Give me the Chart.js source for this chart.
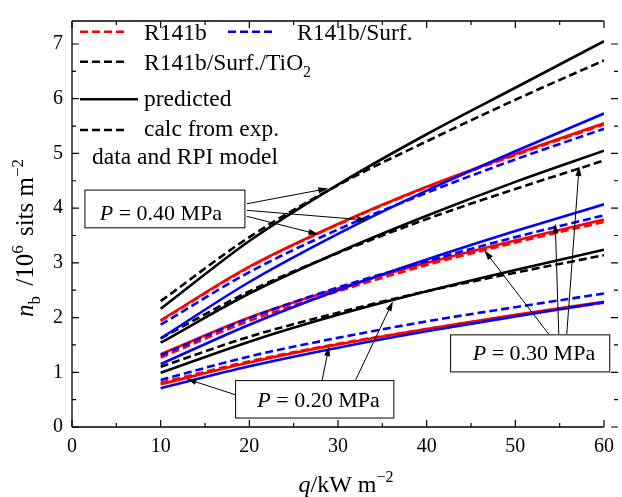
<!DOCTYPE html>
<html>
<head>
<meta charset="utf-8">
<script src="https://cdn.jsdelivr.net/npm/chart.js@4.4.1/dist/chart.umd.min.js"></script>
<style>
  html, body { margin: 0; padding: 0; background: #fff; }
  #wrap { width: 622px; height: 497px; }
</style>
</head>
<body>
<div id="wrap"><canvas id="c" width="622" height="497"></canvas></div>
<script>
// Heat flux q (kW m^-2)
const heatFlux = [10, 20, 30, 40, 50, 60];

// Active nucleation site density n_b (10^6 sites m^-2)
// P = 0.40 MPa
const r141bPred40     = [1.95, 2.93, 3.71, 4.39, 4.99, 5.55];
const r141bCalc40     = [1.94, 2.92, 3.70, 4.38, 4.97, 5.53];
const surfPred40      = [1.62, 2.65, 3.53, 4.32, 5.04, 5.73];
const surfCalc40      = [1.87, 2.83, 3.61, 4.28, 4.89, 5.45];
const tio2Pred40      = [2.16, 3.40, 4.43, 5.35, 6.20, 7.05];
const tio2Calc40      = [2.30, 3.47, 4.42, 5.22, 5.98, 6.70];
// P = 0.30 MPa
const r141bPred30     = [1.33, 2.00, 2.53, 3.00, 3.41, 3.79];
const r141bCalc30     = [1.27, 1.94, 2.48, 2.96, 3.37, 3.75];
const surfPred30      = [1.15, 1.87, 2.50, 3.06, 3.58, 4.07];
const surfCalc30      = [1.31, 1.99, 2.55, 3.03, 3.47, 3.87];
const tio2Pred30      = [1.54, 2.44, 3.19, 3.86, 4.48, 5.05];
const tio2Calc30      = [1.62, 2.48, 3.18, 3.80, 4.35, 4.87];
// P = 0.20 MPa
const r141bPred20     = [0.78, 1.18, 1.51, 1.79, 2.05, 2.29];
const r141bCalc20     = [0.81, 1.20, 1.52, 1.79, 2.04, 2.27];
const surfPred20      = [0.71, 1.11, 1.45, 1.75, 2.02, 2.28];
const surfCalc20      = [0.86, 1.29, 1.63, 1.93, 2.19, 2.44];
const tio2Pred20      = [0.99, 1.56, 2.05, 2.48, 2.87, 3.24];
const tio2Calc20      = [1.10, 1.65, 2.09, 2.48, 2.82, 3.14];

const xTickValues = [0, 10, 20, 30, 40, 50, 60];
const yTickValues = [0, 1, 2, 3, 4, 5, 6, 7];

const RED = '#ff0000', BLUE = '#0000ff', BLACK = '#000000';
const SERIF = '"Liberation Serif", "DejaVu Serif", serif';

function pts(arr) { return heatFlux.map((q, i) => ({ x: q, y: arr[i] })); }
function ds(arr, color, dashed) {
  return {
    data: pts(arr),
    borderColor: color,
    backgroundColor: color,
    borderWidth: 2.6,
    borderDash: dashed ? [8, 4] : [],
    pointRadius: 0,
    fill: false,
    cubicInterpolationMode: 'monotone'
  };
}

// earlier entries are painted on top
const datasets = [
  ds(surfPred20, BLUE, false), ds(surfPred30, BLUE, false), ds(surfPred40, BLUE, false),
  ds(surfCalc20, BLUE, true),  ds(surfCalc30, BLUE, true),  ds(surfCalc40, BLUE, true),
  ds(r141bPred20, RED, false), ds(r141bPred30, RED, false), ds(r141bPred40, RED, false),
  ds(r141bCalc20, RED, true),  ds(r141bCalc30, RED, true),  ds(r141bCalc40, RED, true),
  ds(tio2Pred20, BLACK, false), ds(tio2Pred30, BLACK, false), ds(tio2Pred40, BLACK, false),
  ds(tio2Calc20, BLACK, true),  ds(tio2Calc30, BLACK, true),  ds(tio2Calc40, BLACK, true)
];

// mixed-style text: parts {t, it, sub, sup}
function fontFor(p, size) {
  const s = (p.sub || p.sup) ? Math.round(size * 0.68) : size;
  return (p.it ? 'italic ' : '') + s + 'px ' + SERIF;
}
function richWidth(ctx, parts, size) {
  let w = 0;
  for (const p of parts) { ctx.font = fontFor(p, size); w += ctx.measureText(p.t).width + (p.gap || 0); }
  return w;
}
function drawRich(ctx, parts, x, y, size, align) {
  const w = richWidth(ctx, parts, size);
  let cx = align === 'center' ? x - w / 2 : x;
  ctx.textAlign = 'left';
  ctx.textBaseline = 'alphabetic';
  ctx.fillStyle = '#000';
  for (const p of parts) {
    ctx.font = fontFor(p, size);
    const dy = p.sub ? size * 0.28 : (p.sup ? -size * 0.42 : 0);
    ctx.fillText(p.t, cx, y + dy);
    cx += ctx.measureText(p.t).width + (p.gap || 0);
  }
}

function arrow(ctx, x1, y1, x2, y2) {
  const ang = Math.atan2(y2 - y1, x2 - x1);
  const L = 10, W = 3;
  ctx.beginPath();
  ctx.moveTo(x1, y1);
  ctx.lineTo(x2 - L * 0.8 * Math.cos(ang), y2 - L * 0.8 * Math.sin(ang));
  ctx.stroke();
  ctx.beginPath();
  ctx.moveTo(x2, y2);
  ctx.lineTo(x2 - L * Math.cos(ang) + W * Math.sin(ang), y2 - L * Math.sin(ang) - W * Math.cos(ang));
  ctx.lineTo(x2 - L * Math.cos(ang) - W * Math.sin(ang), y2 - L * Math.sin(ang) + W * Math.cos(ang));
  ctx.closePath();
  ctx.fill();
}

const decorations = {
  id: 'decorations',
  afterDraw(chart) {
    const ctx = chart.ctx;
    const xs = chart.scales.x, ys = chart.scales.y;
    const a = chart.chartArea;
    const X = v => xs.getPixelForValue(v), Y = v => ys.getPixelForValue(v);
    ctx.save();

    // frame
    ctx.strokeStyle = '#000';
    ctx.lineWidth = 1.3;
    ctx.beginPath();
    ctx.moveTo(a.left, a.top); ctx.lineTo(a.right, a.top);
    ctx.moveTo(a.left, a.bottom); ctx.lineTo(a.right, a.bottom);
    ctx.moveTo(a.left, a.top); ctx.lineTo(a.left, a.bottom);
    ctx.stroke();

    // tick marks
    ctx.lineWidth = 1.2;
    ctx.beginPath();
    for (let v = 0; v <= 60.001; v += 5) {
      const len = (v % 10 === 0) ? 7 : 4;
      const px = X(v);
      ctx.moveTo(px, a.bottom); ctx.lineTo(px, a.bottom - len);
      ctx.moveTo(px, a.top); ctx.lineTo(px, a.top + len);
    }
    for (let v = 0; v <= 7.001; v += 0.5) {
      const major = Math.abs(v - Math.round(v)) < 1e-6;
      const len = major ? 7 : 4;
      const py = Y(v);
      ctx.moveTo(a.left, py); ctx.lineTo(a.left + len, py);
      ctx.moveTo(a.right + 7 + (major ? 0 : 3), py); ctx.lineTo(a.right + 14, py);
    }
    ctx.stroke();

    // axis titles
    drawRich(ctx, [{ t: 'q', it: true }, { t: '/kW m' }, { t: '\u22122', sup: true }],
      (a.left + a.right) / 2 + 8, 492, 24, 'center');
    ctx.save();
    ctx.translate(33, 238);
    ctx.rotate(-Math.PI / 2);
    drawRich(ctx, [{ t: 'n', it: true }, { t: 'b', sub: true, gap: 4 }, { t: ' /10' }, { t: '6', sup: true, gap: 3 },
      { t: ' sits m' }, { t: '\u22122', sup: true }], 0, 0, 25, 'center');
    ctx.restore();

    // legend
    function sample(x1, x2, y, color, dashed) {
      ctx.save();
      ctx.strokeStyle = color; ctx.lineWidth = 2.6;
      ctx.setLineDash(dashed ? [8, 4] : []);
      ctx.beginPath(); ctx.moveTo(x1, y); ctx.lineTo(x2, y); ctx.stroke();
      ctx.restore();
    }
    const LF = 23.5;
    sample(80, 125, 31.7, RED, true);
    drawRich(ctx, [{ t: 'R141b' }], 144, 39.5, LF);
    sample(228, 273, 31.7, BLUE, true);
    drawRich(ctx, [{ t: 'R141b/Surf.' }], 297, 39.5, LF);
    sample(80, 125, 61.7, BLACK, true);
    drawRich(ctx, [{ t: 'R141b/Surf./TiO' }, { t: '2', sub: true }], 144, 70, LF);
    sample(80, 138, 99.3, BLACK, false);
    drawRich(ctx, [{ t: 'predicted' }], 144, 106, LF);
    sample(80, 125, 130, BLACK, true);
    drawRich(ctx, [{ t: 'calc from exp.' }], 144, 135.5, LF);
    drawRich(ctx, [{ t: 'data and RPI model' }], 92, 163.5, LF);

    // pressure labels with leader arrows
    function box(x1, y1, x2, y2, label, tx, ty) {
      const L = X(x1), T = Y(y1), R = X(x2), B = Y(y2);
      ctx.fillStyle = '#fff';
      ctx.fillRect(L, T, R - L, B - T);
      ctx.strokeStyle = '#000'; ctx.lineWidth = 1;
      ctx.strokeRect(L, T, R - L, B - T);
      drawRich(ctx, [{ t: 'P', it: true }, { t: ' = ' + label + ' MPa' }], X(tx), Y(ty), 22, 'center');
    }
    const leaders = [
      [19.72, 4.08, 28.9, 4.36], [19.72, 3.96, 33.3, 3.78], [19.72, 3.85, 27.8, 3.52],
      [18.6, 0.58, 12.9, 0.88], [28.2, 0.85, 29.0, 1.48], [31.9, 0.83, 36.2, 2.30],
      [53.75, 1.70, 46.5, 3.23], [54.9, 1.70, 54.5, 3.72], [55.8, 1.70, 57.2, 4.77]
    ];
    for (const l of leaders) {
      ctx.strokeStyle = '#000'; ctx.fillStyle = '#000'; ctx.lineWidth = 1;
      arrow(ctx, X(l[0]), Y(l[1]), X(l[2]), Y(l[3]));
    }
    box(1.46, 4.33, 19.5, 3.64, '0.40', 10.03, 3.79);
    box(18.45, 0.848, 36.3, 0.164, '0.20', 27.8, 0.36);
    box(42.7, 1.684, 60.65, 1.007, '0.30', 52.1, 1.23);

    ctx.restore();
  }
};

new Chart(document.getElementById('c'), {
  type: 'line',
  data: { datasets },
  options: {
    responsive: false,
    animation: false,
    devicePixelRatio: 1,
    layout: { padding: { top: 7, right: 15, left: 0, bottom: 0 } },
    plugins: { legend: { display: false }, tooltip: { enabled: false } },
    scales: {
      x: {
        type: 'linear', min: 0, max: 60,
        afterFit(s) { s.height = 70; },
        afterBuildTicks(s) { s.ticks = xTickValues.map(v => ({ value: v })); },
        grid: { display: false, drawTicks: false },
        border: { display: false },
        ticks: { color: '#000', padding: 8, font: { family: SERIF, size: 20 } }
      },
      y: {
        type: 'linear', min: 0, max: 7.42,
        afterFit(s) { s.width = 72; },
        afterBuildTicks(s) { s.ticks = yTickValues.map(v => ({ value: v })); },
        grid: { display: false, drawTicks: false },
        border: { display: false },
        ticks: { color: '#000', padding: 9, font: { family: SERIF, size: 20 } }
      }
    }
  },
  plugins: [decorations]
});
</script>
</body>
</html>
